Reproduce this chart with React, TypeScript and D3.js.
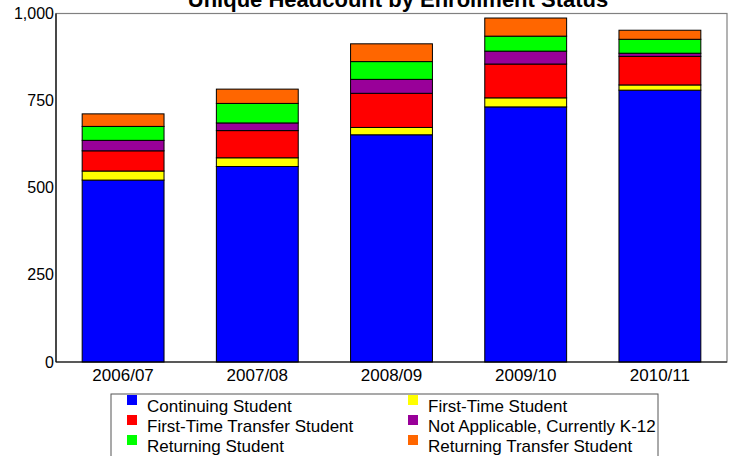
import React from "react";
import * as d3 from "d3";

const years = ["2006/07", "2007/08", "2008/09", "2009/10", "2010/11"];
const seriesNames = [
  "Continuing Student",
  "First-Time Student",
  "First-Time Transfer Student",
  "Not Applicable, Currently K-12",
  "Returning Student",
  "Returning Transfer Student",
];
const continuing = [522, 561, 652, 732, 780];
const firstTime = [26, 25, 21, 26, 15];
const firstTimeTransfer = [58, 78, 98, 97, 82];
const notApplicable = [30, 22, 40, 37, 9];
const returning = [40, 56, 51, 43, 40];
const returningTransfer = [36, 41, 51, 52, 26];
const colors = ["#0000FF", "#FFFF00", "#FF0000", "#990099", "#00FF00", "#FF6600"];
const yTicks = [0, 250, 500, 750, 1000];
const legendOrder = [0, 1, 2, 3, 4, 5];

const W = 734;
const H = 456;
const L = 56, R = 727, T = 13.5, B = 362;

export default function App() {
  const seriesValues = [continuing, firstTime, firstTimeTransfer, notApplicable, returning, returningTransfer];
  const rows = years.map((yr, i) => {
    const r: any = { year: yr };
    seriesNames.forEach((s, j) => (r[s] = seriesValues[j][i]));
    return r;
  });
  const stacked = d3.stack<any>().keys(seriesNames)(rows);
  const x = d3.scaleBand().domain(years).range([L, R]).paddingInner(0.39).paddingOuter(0.195);
  const y = d3.scaleLinear().domain([0, 1000]).range([B, T]);
  const fmt = d3.format(",");
  const font = "'Liberation Sans', Arial, sans-serif";

  return (
    <svg width={W} height={H} style={{ position: "absolute", left: 0, top: 0, background: "#fff" }} fontFamily={font}>
      <rect x={0} y={0} width={W} height={H} fill="#fff" />
      <text x={398} y={6.5} textAnchor="middle" fontWeight="bold" fontSize={22} fill="#000">
        Unique Headcount by Enrollment Status
      </text>
      <rect x={L} y={T} width={R - L} height={B - T} fill="#fff" stroke="#808080" strokeWidth={1.2} />
      {stacked.map((s, j) => (
        <g key={s.key}>
          {s.map((d, i) => (
            <rect
              key={i}
              x={x(years[i])!}
              y={y(d[1])}
              width={x.bandwidth()}
              height={y(d[0]) - y(d[1])}
              fill={colors[j]}
              stroke="#000"
              strokeWidth={1}
            />
          ))}
        </g>
      ))}
      <line x1={L} x2={L} y1={T} y2={B} stroke="#000" strokeWidth={1.2} />
      <line x1={L} x2={R} y1={B} y2={B} stroke="#000" strokeWidth={1.2} />
      {yTicks.map((t) => (
        <text key={t} x={L - 2} y={y(t)} dy="0.35em" textAnchor="end" fontSize={16} fill="#000">
          {fmt(t)}
        </text>
      ))}
      {years.map((yr) => (
        <text key={yr} x={x(yr)! + x.bandwidth() / 2} y={381} textAnchor="middle" fontSize={17} fill="#000">
          {yr}
        </text>
      ))}
      <rect x={111} y={394} width={547} height={80} fill="#fff" stroke="#555" strokeWidth={1} />
      {legendOrder.map((j, k) => {
        const col = k % 2;
        const row = Math.floor(k / 2);
        const lx = col === 0 ? 127 : 408;
        const ly = 395 + row * 20;
        return (
          <g key={j}>
            <rect x={lx} y={ly} width={10} height={10} fill={colors[j]} />
            <text x={lx + 20} y={ly + 17} fontSize={17} fill="#000">
              {seriesNames[j]}
            </text>
          </g>
        );
      })}
    </svg>
  );
}
